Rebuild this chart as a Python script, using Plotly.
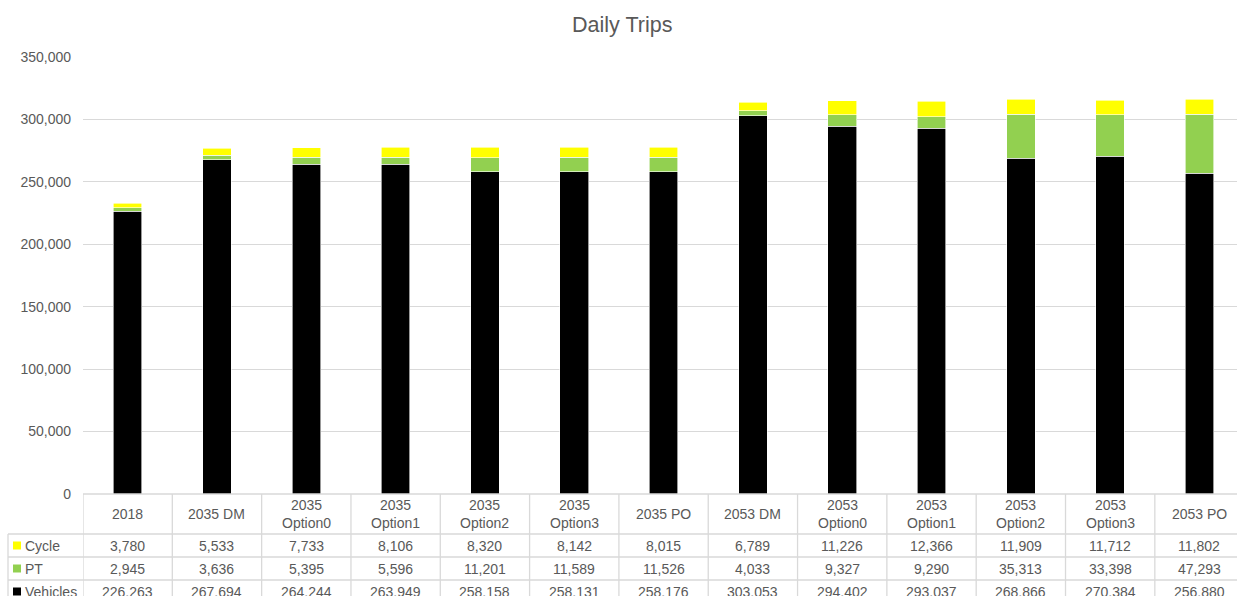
import plotly.graph_objects as go

categories = ["2018", "2035 DM", "2035 Option0", "2035 Option1", "2035 Option2", "2035 Option3",
              "2035 PO", "2053 DM", "2053 Option0", "2053 Option1", "2053 Option2", "2053 Option3", "2053 PO"]
header_labels = ["2018", "2035 DM", "2035<br>Option0", "2035<br>Option1", "2035<br>Option2", "2035<br>Option3",
                 "2035 PO", "2053 DM", "2053<br>Option0", "2053<br>Option1", "2053<br>Option2", "2053<br>Option3", "2053 PO"]
vehicles = [226263, 267694, 264244, 263949, 258158, 258131, 258176, 303053, 294402, 293037, 268866, 270384, 256880]
pt = [2945, 3636, 5395, 5596, 11201, 11589, 11526, 4033, 9327, 9290, 35313, 33398, 47293]
cycle = [3780, 5533, 7733, 8106, 8320, 8142, 8015, 6789, 11226, 12366, 11909, 11712, 11802]

series = [("Vehicles", vehicles, "#000000"), ("PT", pt, "#92D050"), ("Cycle", cycle, "#FFFF00")]
table_rows = [("Cycle", cycle, "#FFFF00"), ("PT", pt, "#92D050"), ("Vehicles", vehicles, "#000000")]

W, H = 1237, 596
L, T, B = 83, 57, 102
plot_h = H - T - B
TXT = "#595959"
GRID = "#D9D9D9"
FONT = "Liberation Sans, Arial, sans-serif"

def py(p):
    return (H - B - p) / plot_h

def px(p):
    return (p - L) / (W - L)

fig = go.Figure()
idx = list(range(len(categories)))
for name, vals, col in series:
    fig.add_trace(go.Bar(x=idx, y=vals, name=name, marker=dict(color=col, line=dict(color="white", width=0.6)),
                         width=0.32, showlegend=False))

shapes = []
ann = []
# horizontal table lines
for p, x0 in [(494, L), (534, 8), (557, 8), (580, 8)]:
    shapes.append(dict(type="line", xref="paper", yref="paper", x0=px(x0), x1=1.0, y0=py(p), y1=py(p),
                       line=dict(color=GRID, width=1.3)))
# vertical lines
n = len(categories)
for i in range(n + 1):
    shapes.append(dict(type="line", xref="x", yref="paper", x0=i - 0.5, x1=i - 0.5, y0=py(494), y1=py(610),
                       line=dict(color=GRID, width=1.3)))
shapes.append(dict(type="line", xref="paper", yref="paper", x0=px(8), x1=px(8), y0=py(534), y1=py(610),
                   line=dict(color=GRID, width=1.3)))

for i, lab in enumerate(header_labels):
    ann.append(dict(x=i, y=py(514), xref="x", yref="paper", text=lab, showarrow=False,
                    font=dict(size=14, color=TXT, family=FONT), align="center", yanchor="middle"))

row_centers = [545.5, 568.5, 591.5]
for (name, vals, col), yc in zip(table_rows, row_centers):
    shapes.append(dict(type="rect", xref="paper", yref="paper", x0=px(13), x1=px(21), y0=py(yc - 4), y1=py(yc + 4),
                       fillcolor=col, line=dict(width=0)))
    ann.append(dict(x=px(23), y=py(yc), xref="paper", yref="paper", text=name, showarrow=False,
                    xanchor="left", yanchor="middle", font=dict(size=14, color=TXT, family=FONT)))
    for i, v in enumerate(vals):
        ann.append(dict(x=i, y=py(yc), xref="x", yref="paper", text=f"{v:,}", showarrow=False,
                        yanchor="middle", font=dict(size=14, color=TXT, family=FONT)))

fig.update_layout(
    width=W, height=H,
    margin=dict(l=L, r=0, t=T, b=B),
    paper_bgcolor="white", plot_bgcolor="white",
    barmode="stack", bargap=0.68,
    title=dict(text="Daily Trips", x=0.503, xanchor="center", y=1 - 24 / H, yanchor="middle",
               font=dict(size=21.5, color=TXT, family=FONT)),
    xaxis=dict(range=[-0.5, 12.42], showticklabels=False, showgrid=False, zeroline=False, showline=False),
    yaxis=dict(range=[0, 350000], tickvals=[0, 50000, 100000, 150000, 200000, 250000, 300000, 350000],
               tickformat=",", showgrid=True, gridcolor=GRID, gridwidth=1.3, zeroline=False, showline=False,
               tickfont=dict(size=14, color=TXT, family=FONT), ticklabelstandoff=11),
    shapes=shapes, annotations=ann,
)
fig.write_html("out.html")
